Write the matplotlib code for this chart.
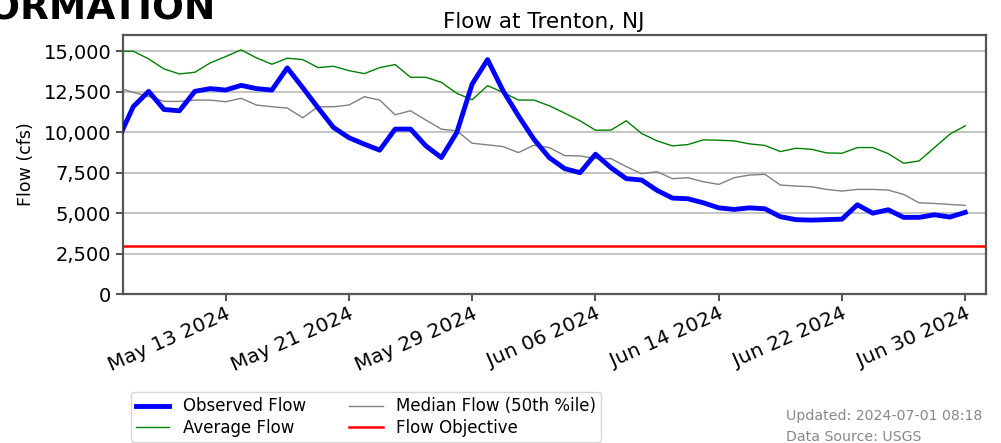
"""Daily flow at Trenton, NJ: observed vs average / median and the flow objective."""
import matplotlib
matplotlib.use("Agg")
import matplotlib.dates as mdates
import matplotlib.pyplot as plt
import matplotlib.ticker as mticker
import pandas as pd

# ---------------- data (cfs, daily, May 6 .. Jun 30 2024) ----------------
dates = pd.date_range("2024-05-06", "2024-06-30", freq="D")

observed = [
    9500, 11570, 12520, 11400, 11320, 12520, 12690, 12600, 12890, 12690,
    12600, 13970, 12750, 11500, 10290, 9660, 9260, 8890, 10190, 10190,
    9150, 8430, 9980, 12975, 14480, 12560, 11010, 9570, 8430, 7750,
    7500, 8640, 7810, 7130, 7045, 6405, 5930, 5890, 5640, 5330,
    5230, 5330, 5270, 4780, 4600, 4570, 4600, 4630, 5520, 5000,
    5210, 4740, 4740, 4900, 4760, 5050,
]
average = [
    15000, 15000, 14525, 13905, 13595, 13700, 14277, 14670, 15080, 14590,
    14195, 14566, 14483, 13988, 14070, 13800, 13616, 13988, 14174, 13388,
    13388, 13078, 12397, 12004, 12872, 12459, 11984, 11984, 11632, 11178,
    10703, 10124, 10124, 10703, 9918, 9463, 9153, 9236, 9525, 9504,
    9463, 9277, 9180, 8802, 9009, 8947, 8720, 8699, 9050, 9050,
    8678, 8079, 8224, 9050, 9876, 10393,
]
median = [
    12750, 12460, 12210, 11900, 11900, 11980, 11980, 11880, 12090, 11675,
    11570, 11490, 10890, 11570, 11570, 11674, 12190, 11984, 11074, 11322,
    10744, 10186, 10083, 9318, 9215, 9111, 8740, 9194, 9050, 8554,
    8533, 8368, 8368, 7872, 7438, 7562, 7128, 7190, 6942, 6777,
    7190, 7355, 7397, 6736, 6674, 6633, 6467, 6364, 6467, 6467,
    6426, 6157, 5641, 5600, 5538, 5480,
]
flow_objective = 3000

updated = pd.Timestamp("2024-07-01 08:18")
tick_dates = pd.date_range("2024-05-13", "2024-06-30", freq="8D")

# ---------------- figure ----------------
fig = plt.figure(figsize=(10.01, 4.43), dpi=100)
ax = fig.add_axes([0.123, 0.336, 0.862, 0.585])

ax.plot(dates, observed, color="blue", lw=3.5, label="Observed Flow", zorder=4)
ax.plot(dates, average, color="green", lw=1.0, label="Average Flow", zorder=3)
ax.plot(dates, median, color="gray", lw=1.0, label="Median Flow (50th %ile)", zorder=3)
ax.axhline(flow_objective, color="red", lw=1.8, label="Flow Objective", zorder=3)

ax.set_xlim(updated - pd.Timedelta(days=56), updated)
ax.set_ylim(0, 16000)
ax.yaxis.set_major_locator(mticker.MultipleLocator(2500))
ax.yaxis.set_major_formatter(mticker.StrMethodFormatter("{x:,.0f}"))
ax.set_xticks(tick_dates)
ax.xaxis.set_major_formatter(mdates.DateFormatter("%b %d %Y"))
plt.setp(ax.get_xticklabels(), rotation=24, ha="right", rotation_mode="anchor")

ax.grid(axis="y", color="#bbbbbb", lw=1.2, zorder=0)
ax.set_axisbelow(True)
for sp in ax.spines.values():
    sp.set_color("#555555")
    sp.set_linewidth(1.6)
ax.tick_params(axis="both", length=5, width=1.2, color="#333333")
ax.tick_params(axis="y", labelsize=14)
ax.tick_params(axis="x", labelsize=14.5, pad=2)

ax.set_ylabel("Flow (cfs)", fontsize=12.5, labelpad=6)
ax.set_title("Flow at Trenton, NJ", fontsize=15.5, x=0.487, pad=5)

ax.legend(loc="lower left", bbox_to_anchor=(0.131, 0.003), bbox_transform=fig.transFigure,
          borderaxespad=0, ncol=2, fontsize=12, frameon=True, edgecolor="#cccccc",
          columnspacing=2.6, handlelength=2.0, borderpad=0.3, labelspacing=0.2)

# page heading, partly outside the canvas as in the source screenshot
fig.text(0.216, 1 - 20 / 443, "INFORMATION", fontsize=27, fontweight="bold",
         ha="right", va="baseline")
fig.text(0.785, 0.053, "Updated: 2024-07-01 08:18", fontsize=10.2, color="#888888",
         ha="left", va="baseline")
fig.text(0.785, 0.005, "Data Source: USGS", fontsize=10.2, color="#888888",
         ha="left", va="baseline")

fig.savefig("out.png", dpi=100, facecolor="white")
